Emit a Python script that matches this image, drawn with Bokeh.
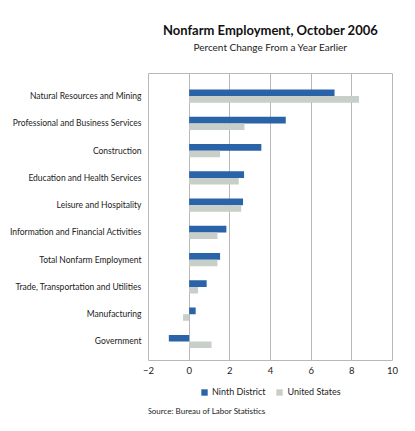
from bokeh.plotting import figure
from bokeh.models import (Title, Legend, LegendItem, ColumnDataSource, FixedTicker,
                          Range1d, LinearAxis, Label)
from bokeh.layouts import column
from bokeh.embed import file_html
from bokeh.resources import INLINE

categories = [
    "Natural Resources and Mining",
    "Professional and Business Services",
    "Construction",
    "Education and Health Services",
    "Leisure and Hospitality",
    "Information and Financial Activities",
    "Total Nonfarm Employment",
    "Trade, Transportation and Utilities",
    "Manufacturing",
    "Government",
]
ninth_district = [7.15, 4.75, 3.55, 2.7, 2.65, 1.83, 1.52, 0.86, 0.32, -1.0]
united_states = [8.35, 2.72, 1.52, 2.44, 2.56, 1.39, 1.39, 0.44, -0.3, 1.1]
x_ticks = [-2, 0, 2, 4, 6, 8, 10]
series_names = ["Ninth District", "United States"]

FONT = "Lato"
BLUE = "#2a63a8"
GRAY = "#c8cec8"
LINE = "#b8b8b8"
TXT = "#222222"

n = len(categories)
pos = [n - 1 - i for i in range(n)]
src = ColumnDataSource(dict(
    y1=[p_ + 0.12 for p_ in pos],
    y2=[p_ - 0.12 for p_ in pos],
    nd=ninth_district,
    us=united_states,
))

p = figure(width=413, height=380, title=None,
           x_range=Range1d(-2, 10), y_range=Range1d(-0.7, 9.83),
           output_backend="svg", toolbar_location=None,
           min_border_left=148, min_border_right=21,
           min_border_top=73, min_border_bottom=20)

r1 = p.hbar(y="y1", left=0, right="nd", height=0.24, source=src,
            fill_color=BLUE, line_color=None)
r2 = p.hbar(y="y2", left=0, right="us", height=0.24, source=src,
            fill_color=GRAY, line_color=None)

p.outline_line_color = LINE
p.xgrid.ticker = FixedTicker(ticks=x_ticks)
p.xgrid.grid_line_color = LINE
p.ygrid.grid_line_color = None

xa = p.xaxis[0]
xa.ticker = FixedTicker(ticks=x_ticks)
xa.major_label_overrides = {t: (str(t).replace("-", "\u2212")) for t in x_ticks}
xa.axis_line_color = None
xa.major_tick_line_color = None
xa.minor_tick_line_color = None
xa.major_tick_out = 0
xa.major_tick_in = 0
xa.major_label_standoff = 6
xa.major_label_text_font = FONT
xa.major_label_text_font_size = "9.5px"
xa.major_label_text_color = TXT

ya = p.yaxis[0]
ya.ticker = FixedTicker(ticks=pos)
ya.major_label_overrides = {p_: c for p_, c in zip(pos, categories)}
ya.axis_line_color = None
ya.major_tick_line_color = None
ya.minor_tick_line_color = None
ya.major_tick_out = 0
ya.major_tick_in = 0
ya.major_label_standoff = 7
ya.major_label_text_font = FONT
ya.major_label_text_font_size = "8.5px"
ya.major_label_text_color = TXT

# subtitle as label of an empty axis just above the frame
sub = LinearAxis(ticker=FixedTicker(ticks=[]),
                 axis_label="Percent Change From a Year Earlier",
                 axis_label_standoff=21,
                 axis_label_text_font=FONT, axis_label_text_font_size="10px",
                 axis_label_text_font_style="normal", axis_label_text_color=TXT,
                 axis_line_color=None, major_tick_line_color=None,
                 minor_tick_line_color=None, major_tick_out=0, major_tick_in=0,
                 minor_tick_out=0, major_label_standoff=0)
p.add_layout(sub, "above")
p.add_layout(Title(text="Nonfarm Employment, October 2006", align="center",
                   text_font=FONT, text_font_size="13px", text_font_style="bold",
                   text_color="#111111", standoff=0), "above")

# legend + source note in a strip below the chart (its frame lines up with the chart's)
q = figure(width=413, height=49, x_range=Range1d(0, 1), y_range=Range1d(0, 1),
           x_axis_type=None, y_axis_type=None, output_backend="svg",
           toolbar_location=None, min_border=0, outline_line_color=None)
q.grid.visible = False
# legend proxies: a single zero-width bar placed outside this strip's visible range
proxy = ColumnDataSource(dict(y=[-5], left=[0], right=[0]))
l1 = q.hbar(y="y", left="left", right="right", height=0.1, source=proxy,
            fill_color=BLUE, line_color=None)
l2 = q.hbar(y="y", left="left", right="right", height=0.1, source=proxy,
            fill_color=GRAY, line_color=None)
legend = Legend(items=[LegendItem(label=series_names[0], renderers=[l1]),
                       LegendItem(label=series_names[1], renderers=[l2])],
                orientation="horizontal", location=(52, 32),
                glyph_width=8, glyph_height=8, label_standoff=4, spacing=10,
                padding=4, margin=0, border_line_color=None,
                background_fill_alpha=0,
                label_text_font=FONT, label_text_font_size="9px",
                label_text_color=TXT)
q.add_layout(legend, "center")
q.add_layout(Label(x=-1, y=19, x_units="screen", y_units="screen",
                   text="Source: Bureau of Labor Statistics",
                   text_font=FONT, text_font_size="8px", text_color=TXT,
                   text_baseline="alphabetic"))

open("out.html", "w").write(file_html(column(p, q, spacing=0), INLINE))
